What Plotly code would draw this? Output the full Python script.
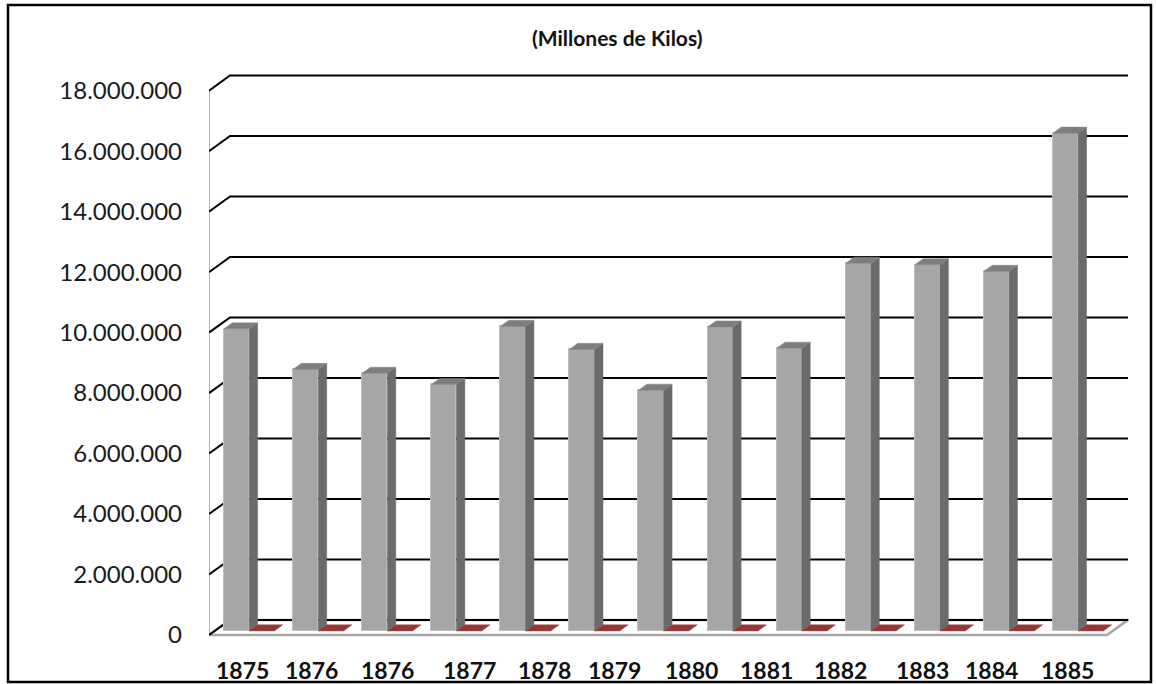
import plotly.graph_objects as go

# ---------------- data ----------------
gray_values = [9990000, 8650000, 8520000, 8150000, 10070000, 9310000, 7960000,
               10050000, 9350000, 12160000, 12110000, 11890000, 16460000]
red_values = [0, 0, 0, 0, 0, 0, 0, 0, 0, 0, 0, 0, 0]
label_text = ["1875", "1876", "1876", "1877", "1878", "1879",
              "1880", "1881", "1882", "1883", "1884", "1885"]
y_ticks = [0, 2000000, 4000000, 6000000, 8000000, 10000000,
           12000000, 14000000, 16000000, 18000000]
title_text = "(Millones de Kilos)"

# ---------------- layout / projection constants ----------------
label_x = [0.478, 1.491, 2.591, 3.764, 4.864, 5.863,
           6.992, 8.064, 9.149, 10.322, 11.335, 12.421]
n = len(gray_values)
DX = 0.304          # depth offset in x units
DY = 0.5e6          # depth offset in y units
A, B = 0.27, 0.67   # bar depth span (fraction of floor depth)
G = 0.135           # left gap inside each category
W = 0.365           # bar front width
FONT = "Lato"

fig = go.Figure()

# front faces of gray bars (bar trace)
fig.add_trace(go.Bar(
    x=[i + G + A * DX + W / 2 for i in range(n)],
    y=gray_values,
    base=A * DY,
    width=W,
    marker=dict(color="#A6A6A6", line=dict(color="#BEBEBE", width=1)),
    hoverinfo="skip", showlegend=False,
))

# side faces and top faces
sx, sy = [], []
tx, ty = [], []
for i, v in enumerate(gray_values):
    x0 = i + G
    x1 = x0 + W
    sx += [x1 + A * DX, x1 + B * DX, x1 + B * DX, x1 + A * DX, x1 + A * DX, None]
    sy += [A * DY, B * DY, v + B * DY, v + A * DY, A * DY, None]
    tx += [x0 + A * DX, x1 + A * DX, x1 + B * DX, x0 + B * DX, x0 + A * DX, None]
    ty += [v + A * DY, v + A * DY, v + B * DY, v + B * DY, v + A * DY, None]
fig.add_trace(go.Scatter(x=sx, y=sy, mode="lines", fill="toself",
                         fillcolor="#6B6B6B", line=dict(color="#6B6B6B", width=0.5),
                         hoverinfo="skip", showlegend=False))
fig.add_trace(go.Scatter(x=tx, y=ty, mode="lines", fill="toself",
                         fillcolor="#7E7E7E", line=dict(color="#8A8A8A", width=0.5),
                         hoverinfo="skip", showlegend=False))

# red (flat) series
rx, ry = [], []
for i, r in enumerate(red_values):
    x0 = i + G + W
    x1 = x0 + W
    rx += [x0 + A * DX, x1 + A * DX, x1 + B * DX, x0 + B * DX, x0 + A * DX, None]
    ry += [r + A * DY, r + A * DY, r + B * DY, r + B * DY, r + A * DY, None]
fig.add_trace(go.Scatter(x=rx, y=ry, mode="lines", fill="toself",
                         fillcolor="#953735", line=dict(color="#A04442", width=0.5),
                         hoverinfo="skip", showlegend=False))

shapes = []
# floor
shapes.append(dict(type="path", xref="x", yref="y", layer="below",
                   path=f"M 0 0 L {n} 0 L {n + DX} {DY} L {DX} {DY} Z",
                   fillcolor="white", line=dict(color="#A6A6A6", width=2.5)))
# left wall edge
shapes.append(dict(type="line", xref="x", yref="y", layer="below",
                   x0=0, y0=0, x1=0, y1=y_ticks[-1],
                   line=dict(color="#9A9A9A", width=1.5)))
# gridlines (side wall + back wall)
for v in y_ticks:
    shapes.append(dict(type="path", xref="x", yref="y", layer="below",
                       path=f"M 0 {v} L {DX} {v + DY} L {n + DX} {v + DY}",
                       line=dict(color="#000000", width=2)))
# outer border
shapes.append(dict(type="rect", xref="paper", yref="paper",
                   x0=(8 - 209) / 920, x1=(1151 - 209) / 920,
                   y0=(640 - 682) / 570, y1=(640 - 5) / 570,
                   line=dict(color="#000000", width=2.5), layer="above"))

annotations = []
for t, xp in zip(label_text, label_x):
    annotations.append(dict(x=xp, xref="x", y=(640 - 670) / 570, yref="paper",
                            text=f"<b>{t}</b>", showarrow=False,
                            font=dict(family=FONT, size=23, color="#111111"),
                            xanchor="center", yanchor="middle"))
annotations.append(dict(x=(617 - 209) / 920, xref="paper", y=(640 - 37) / 570, yref="paper",
                        text=f"<b>{title_text}</b>", showarrow=False,
                        font=dict(family=FONT, size=21, color="#111111"),
                        xanchor="center", yanchor="middle"))

fig.update_layout(
    width=1156, height=684,
    margin=dict(l=209, r=27, t=70, b=44),
    paper_bgcolor="white", plot_bgcolor="rgba(0,0,0,0)",
    separators=",.",
    bargap=0,
    shapes=shapes, annotations=annotations,
    xaxis=dict(range=[0, 920 / 69.077], visible=False, fixedrange=True),
    yaxis=dict(range=[-0.1653e6, 18.684e6], tickvals=y_ticks, tickformat=",d",
               showgrid=False, zeroline=False, showline=False, ticks="",
               ticklabelstandoff=26,
               tickfont=dict(family=FONT, size=24, color="#1a1a1a"), fixedrange=True),
)

fig.write_html("out.html",
               post_script="document.body.style.margin='0';document.body.style.overflow='hidden';",
               config={"displayModeBar": False})
